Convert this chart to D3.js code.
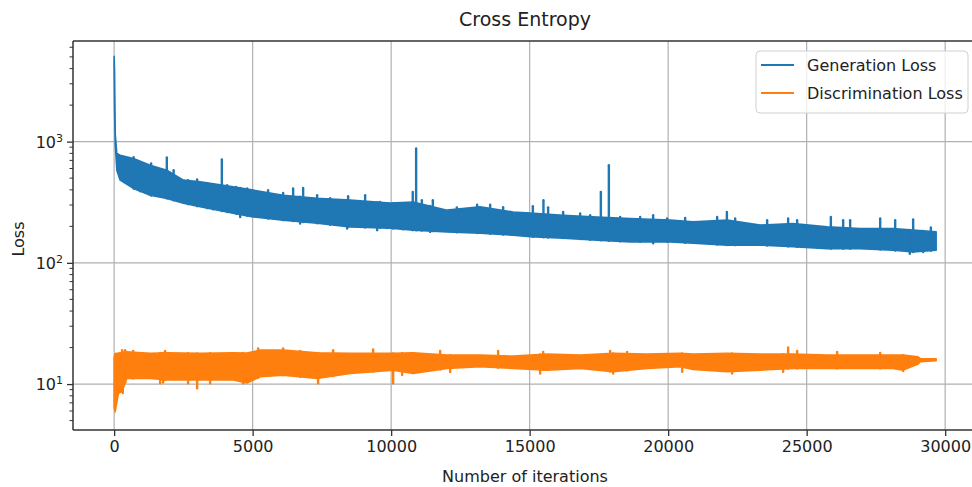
<!DOCTYPE html>
<html>
<head>
<meta charset="utf-8">
<script src="https://cdn.jsdelivr.net/npm/d3@7"></script>
<style>
  html, body { margin: 0; padding: 0; background: #fff; }
  svg { display: block; }
  text { font-family: "DejaVu Sans", sans-serif; fill: #222; }
</style>
</head>
<body>
<svg id="chart" width="972" height="487"></svg>
<script>
// ---------------- data ----------------
// noisy series are given as a min/max envelope plus the visible spikes and dips
const genIterations = [0, 15, 40, 97, 217, 697, 1300, 1902, 2500, 3105, 4296, 5018, 6100, 7328, 8520, 9964, 10794, 12021, 13213, 14404, 15018, 16209, 17436, 18628, 20072, 20902, 22130, 23321, 24512, 25739, 26931, 28122, 28844, 29674];
const genUpper = [5060, 3800, 1150, 798, 773, 726, 639, 581, 481, 466, 423, 398, 361, 341, 329, 311, 318, 272, 290, 263, 257, 247, 239, 232, 225, 218, 225, 205, 211, 198, 192, 192, 186, 180];
const genLower = [4200, 1800, 950, 581, 481, 411, 361, 340, 311, 290, 257, 239, 225, 212, 198, 193, 186, 180, 176, 169, 164, 160, 154, 149, 149, 145, 140, 140, 136, 131, 131, 127, 123, 127];
const genSpikeIters = [704, 939, 1336, 1902, 2148, 2671, 2996, 3357, 3574, 3888, 4079, 4404, 4801, 5559, 6101, 6462, 6823, 7328, 7798, 8447, 9061, 9603, 9845, 10072, 10433, 10780, 10902, 11108, 11505, 12371, 13104, 13574, 14043, 15115, 15498, 15667, 16209, 16823, 17184, 17570, 17859, 18267, 18989, 19458, 19963, 20613, 21768, 22120, 22418, 23573, 24331, 24656, 25873, 26317, 26570, 27654, 28195, 28844, 29483];
const genSpikeValues = [745, 680, 660, 740, 581, 481, 487, 453, 445, 712, 437, 423, 411, 398, 377, 411, 415, 361, 341, 355, 361, 318, 309, 309, 310, 385, 877, 329, 329, 286, 302, 302, 288, 293, 329, 287, 263, 255, 247, 385, 639, 239, 239, 247, 232, 235, 239, 263, 232, 225, 232, 225, 239, 225, 225, 232, 225, 228, 196];
const genDipIters = [4549, 6715, 8411, 9494, 11408, 19458, 28723, 29206];
const genDipValues = [239, 211, 192, 186, 180, 145, 119, 123];

const discIterations = [0, 36, 155, 278, 458, 1300, 1902, 3105, 4296, 4790, 5270, 6100, 7328, 8520, 10072, 10794, 12021, 13213, 14404, 15631, 16823, 18014, 19241, 20433, 20902, 22130, 23321, 24512, 25739, 26931, 28122, 28483, 29024, 29100, 29674];
const discUpper = [16.4, 17.9, 18.0, 18.2, 18.45, 17.9, 18.1, 17.9, 18.1, 18.0, 19.05, 19.05, 18.1, 17.9, 17.9, 18.1, 17.34, 17.34, 17.0, 17.67, 17.34, 17.9, 17.67, 17.9, 17.67, 17.9, 17.67, 17.67, 17.34, 17.34, 17.34, 17.34, 16.8, 16.2, 16.2];
const discLower = [6.5, 5.9, 8.4, 8.65, 11.14, 11.14, 10.79, 10.79, 10.79, 10.19, 11.48, 11.86, 11.14, 12.24, 13.04, 12.24, 13.47, 13.9, 13.47, 13.04, 13.47, 12.63, 13.47, 13.9, 13.22, 12.63, 13.04, 13.47, 13.47, 13.47, 13.47, 13.04, 14.62, 15.3, 15.6];
const discSpikeIters = [289, 397, 686, 1841, 5198, 6101, 6715, 7906, 9350, 11769, 13862, 15487, 17906, 18519, 24331, 24656, 26100, 27653];
const discSpikeValues = [19.05, 19.05, 18.8, 18.8, 19.7, 19.7, 18.8, 19.05, 19.3, 18.8, 18.8, 18.45, 18.8, 18.45, 20.07, 18.8, 18.45, 18.1];
const discDipIters = [314, 1661, 1769, 2671, 2996, 3466, 4657, 7364, 10072, 10397, 12130, 15379, 18014, 20505, 22310, 24151, 28483];
const discDipValues = [8.44, 10.14, 10.3, 10.14, 9.22, 10.14, 10.14, 10.14, 10.14, 11.86, 12.6, 12.24, 12.24, 12.63, 12.24, 12.63, 12.8];

const xTicks = [0, 5000, 10000, 15000, 20000, 25000, 30000];
const yTicks = [10, 100, 1000];
const yTickExps = ["1", "2", "3"];
const seriesNames = ["Generation Loss", "Discrimination Loss"];
const seriesColors = ["#1f77b4", "#ff7f0e"];
const titleText = "Cross Entropy";
const xLabel = "Number of iterations";
const yLabel = "Loss";

// ---------------- layout ----------------
const svg = d3.select("#chart");
const pL = 73, pR = 978, pT = 41, pB = 430;

const x = d3.scaleLinear().domain([-1485, 31185]).range([pL, pR]);
const y = d3.scaleLog().domain([4.18, 6760]).range([pB, pT]);

svg.append("defs").append("clipPath").attr("id", "clip")
  .append("rect").attr("x", pL).attr("y", pT).attr("width", pR - pL).attr("height", pB - pT);

// grid
const grid = svg.append("g");
grid.selectAll(".vg").data(xTicks).join("line")
  .attr("x1", d => x(d)).attr("x2", d => x(d)).attr("y1", pT).attr("y2", pB)
  .attr("stroke", "#b0b0b0").attr("stroke-width", 1.2);
grid.selectAll(".hg").data(yTicks).join("line")
  .attr("x1", pL).attr("x2", pR).attr("y1", d => y(d)).attr("y2", d => y(d))
  .attr("stroke", "#b0b0b0").attr("stroke-width", 1.2);

// series
const plot = svg.append("g").attr("clip-path", "url(#clip)");

function band(iters, up, lo, color) {
  const pts = iters.map((t, i) => ({t, u: up[i], l: lo[i]}));
  const area = d3.area().x(d => x(d.t)).y0(d => y(d.l)).y1(d => y(d.u));
  plot.append("path").datum(pts).attr("d", area)
    .attr("fill", color).attr("stroke", color).attr("stroke-width", 1.6).attr("stroke-linejoin", "round");
}
function interp(iters, vals, t) {
  const i = d3.bisectRight(iters, t);
  if (i <= 0) return vals[0];
  if (i >= iters.length) return vals[vals.length - 1];
  const f = (t - iters[i - 1]) / (iters[i] - iters[i - 1]);
  return Math.exp(Math.log(vals[i - 1]) + f * (Math.log(vals[i]) - Math.log(vals[i - 1])));
}
function spikes(ts, vs, iters, ref, color, w) {
  plot.append("g").selectAll("line").data(ts.map((t, i) => ({t, v: vs[i]}))).join("line")
    .attr("x1", d => x(d.t)).attr("x2", d => x(d.t))
    .attr("y1", d => y(d.v)).attr("y2", d => y(interp(iters, ref, d.t)))
    .attr("stroke", color).attr("stroke-width", w).attr("stroke-linecap", "round");
}

band(genIterations, genUpper, genLower, seriesColors[0]);
spikes(genSpikeIters, genSpikeValues, genIterations, genLower, seriesColors[0], 2.4);
spikes(genDipIters, genDipValues, genIterations, genUpper, seriesColors[0], 2.4);
band(discIterations, discUpper, discLower, seriesColors[1]);
spikes(discDipIters, discDipValues, discIterations, discUpper, seriesColors[1], 2.4);
spikes(discSpikeIters, discSpikeValues, discIterations, discLower, seriesColors[1], 2.4);

// spines
svg.append("line").attr("x1", pL).attr("x2", pL).attr("y1", pT).attr("y2", pB).attr("stroke", "#333").attr("stroke-width", 1.5);
svg.append("line").attr("x1", pL).attr("x2", pR).attr("y1", pB).attr("y2", pB).attr("stroke", "#333").attr("stroke-width", 1.5);
svg.append("line").attr("x1", pL).attr("x2", pR).attr("y1", pT).attr("y2", pT).attr("stroke", "#333").attr("stroke-width", 1.5);

// x axis
const xAxis = d3.axisBottom(x).tickValues(xTicks).tickSize(6).tickPadding(5).tickFormat(d3.format("d"));
const gx = svg.append("g").attr("transform", `translate(0,${pB})`).call(xAxis);
gx.select(".domain").remove();
gx.selectAll(".tick line").attr("stroke", "#333").attr("stroke-width", 1.3);
gx.selectAll(".tick text").attr("font-size", 16).attr("font-family", "DejaVu Sans").attr("fill", "#222");

// y axis (log)
const yAxis = d3.axisLeft(y).tickValues(yTicks).tickSize(6).tickFormat("");
const gy = svg.append("g").attr("transform", `translate(${pL},0)`).call(yAxis);
gy.select(".domain").remove();
gy.selectAll(".tick line").attr("stroke", "#333").attr("stroke-width", 1.3);
gy.selectAll(".tick").append("text")
  .attr("x", -10).attr("dy", "0.35em").attr("text-anchor", "end")
  .attr("font-size", 16).attr("fill", "#222")
  .each(function(d, i) {
    const t = d3.select(this);
    t.append("tspan").text("10");
    t.append("tspan").attr("font-size", 11).attr("dy", "-0.55em").text(yTickExps[i]);
  });
// minor ticks
const minor = [];
y.ticks().forEach(v => { const m = v / Math.pow(10, Math.floor(Math.log10(v) + 1e-9)); if (Math.abs(m - 1) > 1e-6) minor.push(v); });
svg.append("g").selectAll("line").data(minor.filter(v => y(v) >= pT && y(v) <= pB)).join("line")
  .attr("x1", pL - 3.5).attr("x2", pL).attr("y1", d => y(d)).attr("y2", d => y(d))
  .attr("stroke", "#333").attr("stroke-width", 1);

// labels
svg.append("text").attr("x", 525).attr("y", 26).attr("text-anchor", "middle")
  .attr("font-size", 19).text(titleText);
svg.append("text").attr("x", 525).attr("y", 482).attr("text-anchor", "middle")
  .attr("font-size", 16).text(xLabel);
svg.append("text").attr("transform", `translate(24,239) rotate(-90)`).attr("text-anchor", "middle")
  .attr("font-size", 16).text(yLabel);

// legend
const lg = svg.append("g");
lg.append("rect").attr("x", 756).attr("y", 51).attr("width", 212).attr("height", 62).attr("rx", 4)
  .attr("fill", "#fff").attr("fill-opacity", 0.8).attr("stroke", "#d0d0d0").attr("stroke-width", 1);
seriesNames.forEach((n, i) => {
  const yy = 65 + i * 28;
  lg.append("line").attr("x1", 761).attr("x2", 794).attr("y1", yy).attr("y2", yy)
    .attr("stroke", seriesColors[i]).attr("stroke-width", 2.2);
  lg.append("text").attr("x", 807).attr("y", yy).attr("dy", "0.35em").attr("font-size", 16).text(n);
});
</script>
</body>
</html>
